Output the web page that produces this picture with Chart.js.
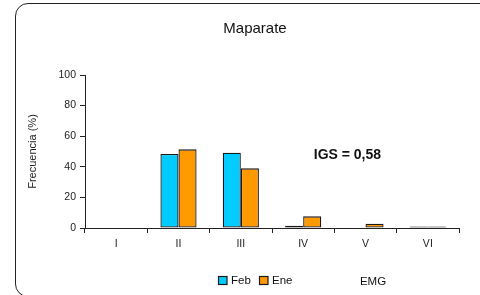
<!DOCTYPE html>
<html>
<head>
<meta charset="utf-8">
<script src="https://cdn.jsdelivr.net/npm/chart.js@4"></script>
<style>
  html, body { margin: 0; padding: 0; background: #fff; overflow: hidden; }
  #wrap { position: relative; width: 480px; height: 295px; overflow: hidden; }
  #frame {
    position: absolute; left: 15px; top: 3px; width: 500px; height: 294px;
    border: 1.5px solid #222; border-radius: 13px; box-sizing: border-box;
  }
  canvas { position: absolute; left: 0; top: 0; }
</style>
</head>
<body>
<div id="wrap">
  <div id="frame"></div>
  <canvas id="chart" width="480" height="295"></canvas>
</div>
<script>
const categories = ['I', 'II', 'III', 'IV', 'V', 'VI']
const febValues = [0, 48.4, 49.2, 1.5, 0, 1]
const eneValues = [0, 51.4, 39, 7.6, 2.8, 1]
const yTicks = [0, 20, 40, 60, 80, 100]

const chartTitle = 'Maparate'
const xTitle = 'EMG'
const yTitle = 'Frecuencia (%)'
const noteText = 'IGS = 0,58'

const FONT = 'Arial, "Liberation Sans", sans-serif'

// textos sueltos: titulo, nota IGS, leyenda y titulo del eje x
const extraText = {
  id: 'extraText',
  afterDraw(chart) {
    const c = chart.ctx
    const x = chart.scales.x
    const y = chart.scales.y
    c.save()
    c.fillStyle = '#111'
    c.textBaseline = 'middle'
    c.textAlign = 'center'

    c.font = '15px ' + FONT
    c.fillText(chartTitle, 255, 28.5)

    c.font = 'bold 14px ' + FONT
    c.fillText(noteText, x.getPixelForValue(3.71), y.getPixelForValue(47.3))

    // leyenda
    c.font = '11.5px ' + FONT
    c.textAlign = 'left'
    const items = chart.data.datasets
    const pos = [218.5, 259.5]
    items.forEach((ds, i) => {
      c.fillStyle = ds.backgroundColor
      c.fillRect(pos[i], 276.5, 8.5, 8)
      c.strokeStyle = '#1a1a1a'
      c.lineWidth = 1.2
      c.strokeRect(pos[i], 276.5, 8.5, 8)
      c.fillStyle = '#111'
      c.fillText(ds.label, pos[i] + 12.5, 281)
    })

    c.textAlign = 'center'
    c.fillText(xTitle, 373, 281.5)
    c.restore()
  },
}

const ctx = document.getElementById('chart').getContext('2d')

new Chart(ctx, {
  type: 'bar',
  data: {
    labels: categories,
    datasets: [
      {
        label: 'Feb',
        data: febValues,
        backgroundColor: '#00CCFF',
        borderColor: '#1a1a1a',
        borderWidth: 1.3,
        borderSkipped: false,
      },
      {
        label: 'Ene',
        data: eneValues,
        backgroundColor: '#FF9900',
        borderColor: '#1a1a1a',
        borderWidth: 1.3,
        borderSkipped: false,
      },
    ],
  },
  options: {
    responsive: false,
    animation: false,
    devicePixelRatio: 1,
    layout: { padding: { left: 20, right: 21, top: 75, bottom: 0 } },
    datasets: {
      bar: { categoryPercentage: 0.58, barPercentage: 1 },
    },
    plugins: {
      legend: { display: false },
      title: { display: false },
      tooltip: { enabled: false },
    },
    scales: {
      x: {
        offset: true,
        grid: {
          offset: true,
          drawOnChartArea: false,
          tickLength: 5,
          color: '#222',
        },
        border: { color: '#222', width: 1 },
        ticks: {
          color: '#222',
          padding: 5,
          font: { family: FONT, size: 10.5 },
        },
        afterFit(scale) {
          scale.height = 67
        },
      },
      y: {
        min: 0,
        max: 100,
        afterBuildTicks(scale) {
          scale.ticks = yTicks.map(v => ({ value: v }))
        },
        grid: {
          drawOnChartArea: false,
          tickLength: 5,
          color: '#222',
        },
        border: { color: '#222', width: 1 },
        ticks: {
          color: '#222',
          padding: 4,
          font: { family: FONT, size: 10.5 },
        },
        title: {
          display: true,
          text: yTitle,
          color: '#222',
          padding: { top: 6, bottom: 0 },
          font: { family: FONT, size: 11 },
        },
        afterFit(scale) {
          scale.width = 65
        },
      },
    },
  },
  plugins: [extraText],
})
</script>
</body>
</html>
